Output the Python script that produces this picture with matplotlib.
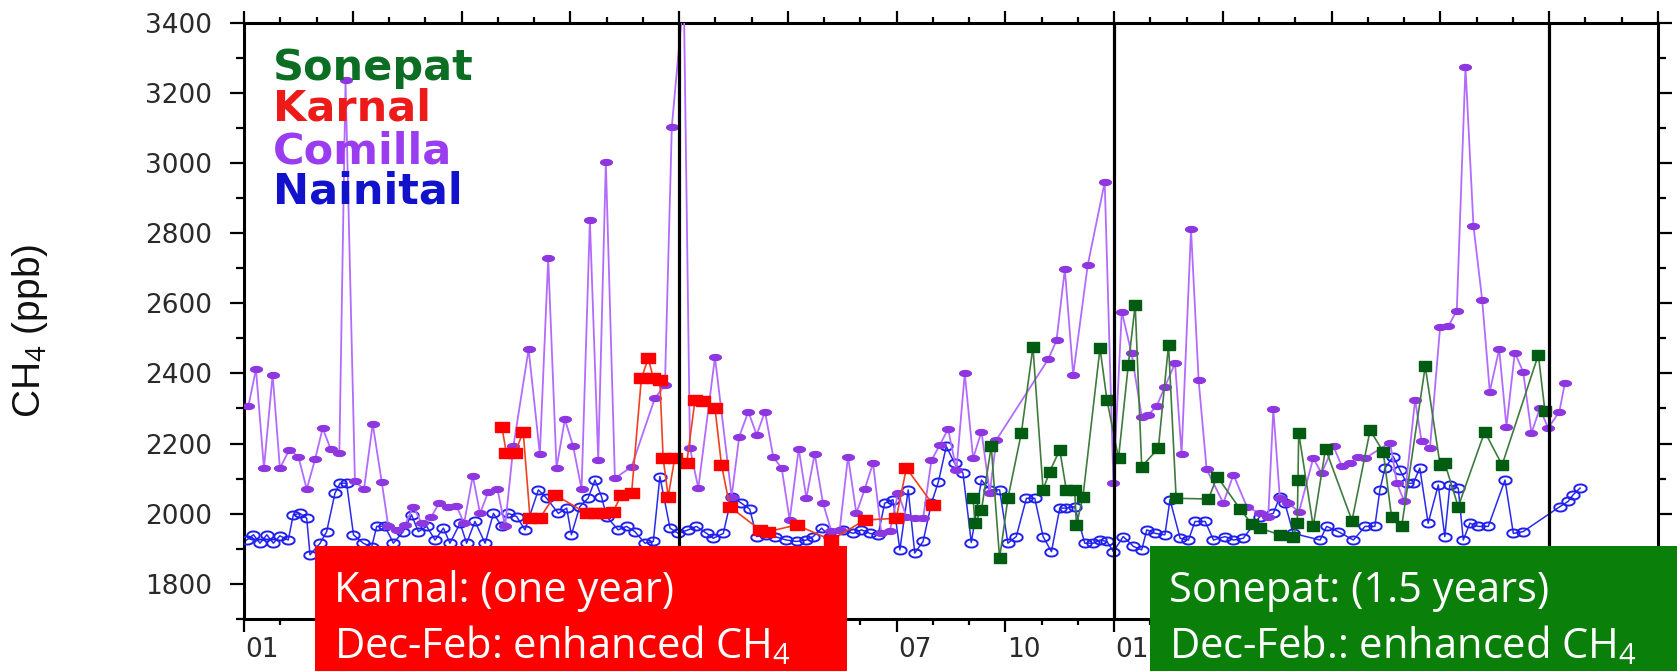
import numpy as np
import matplotlib
matplotlib.use("Agg")
import matplotlib.pyplot as plt
import matplotlib.transforms as mtransforms
from matplotlib.patches import Rectangle
from matplotlib.ticker import MultipleLocator

# x = months since January of the first year (month 0 = Jan)
comilla_month = [0.12, 0.33, 0.55, 0.79, 0.99, 1.25, 1.50, 1.73, 1.96, 2.17, 2.39, 2.63, 2.80,
                 3.06, 3.31, 3.55, 3.80, 3.98, 4.21, 4.44, 4.67, 4.90, 5.17, 5.39, 5.63, 5.86,
                 6.07, 6.31, 6.51, 6.74, 6.99, 7.20, 7.43, 7.85, 8.16, 8.39, 8.62, 8.85, 9.08,
                 9.31, 9.54, 9.77, 9.98, 10.23, 10.69, 11.33, 11.61, 11.80, 12.13, 12.30, 12.53,
                 12.99, 13.45, 13.66, 13.91, 14.14, 14.37, 14.60, 14.83, 15.05, 15.30, 15.51,
                 15.74, 15.97, 16.20, 16.43, 16.66, 16.89, 17.12, 17.35, 17.58, 17.81, 18.04,
                 18.27, 18.50, 18.73, 18.96, 19.19, 19.42, 19.65, 19.88, 20.11, 20.34, 20.57,
                 20.75, 22.18, 22.41, 22.64, 22.87, 23.27, 23.74, 23.98, 24.21, 24.48, 24.76,
                 24.94, 25.17, 25.40, 25.68, 25.86, 26.12, 26.33, 26.55, 27.01, 27.29, 27.66,
                 28.02, 28.25, 28.39, 28.57, 28.80, 29.10, 29.49, 29.72, 30.05, 30.28, 30.50,
                 30.73, 30.92, 31.61, 31.80, 32.00, 32.30, 32.48, 32.71, 32.99, 33.22, 33.45,
                 33.69, 33.91, 34.15, 34.36, 34.62, 34.82, 35.05, 35.28, 35.51, 35.74, 35.97,
                 36.28, 36.43]
comilla_ch4 = [2306, 2412, 2130, 2396, 2130, 2182, 2163, 2070, 2155, 2244, 2184, 2172, 3235,
               2092, 2070, 2256, 2090, 1964, 1954, 1968, 2020, 1973, 1992, 2032, 2020, 2022,
               1973, 2108, 2001, 2063, 2070, 1964, 2192, 2469, 2170, 2728, 2130, 2269, 2192,
               2070, 2837, 2154, 3002, 2101, 2134, 2329, 2367, 3103, 3480, 2187, 2073,
               2446, 2049, 2220, 2291, 2225, 2291, 2161, 2130, 1982, 2185, 2044,
               2171, 2030, 1950, 1954, 2163, 2001, 2070, 2144, 1944, 1950, 2059,
               1992, 1987, 1987, 2152, 2196, 2241, 2125, 2400, 2158, 2234, 2060,
               2210, 2440, 2494, 2697, 2396, 2708, 2945, 2087, 2576, 2457, 2277,
               2282, 2306, 2362, 2429, 2171, 2811, 2380, 2127, 2030, 2111, 2020,
               2001, 1992, 2298, 2044, 2030, 2006, 2158, 2116, 2192, 2135, 2144,
               2163, 2158, 2203, 2087, 2035, 2324, 2206, 2187, 2532, 2535, 2579,
               3274, 2820, 2610, 2348, 2469, 2248, 2459, 2405, 2230, 2300, 2244,
               2291, 2372]

nainital_month = [0.07, 0.26, 0.44, 0.63, 0.81, 0.99, 1.22, 1.36, 1.54, 1.73, 1.82, 2.10, 2.28,
                  2.51, 2.65, 2.83, 3.02, 3.29, 3.52, 3.66, 3.89, 4.12, 4.39, 4.62, 4.81, 5.04,
                  5.27, 5.50, 5.68, 5.96, 6.14, 6.37, 6.65, 6.88, 7.11, 7.29, 7.52, 7.75, 8.12,
                  8.35, 8.67, 8.90, 9.03, 9.26, 9.49, 9.68, 9.86, 10.00, 10.32, 10.55, 10.78,
                  11.06, 11.29, 11.47, 11.75, 11.98, 12.25, 12.48, 12.76, 12.94, 13.22, 13.45,
                  13.72, 13.95, 14.14, 14.41, 14.64, 14.96, 15.24, 15.51, 15.70, 15.93, 16.16,
                  16.52, 16.80, 17.03, 17.26, 17.49, 17.67, 17.90, 18.09, 18.32, 18.50, 18.73,
                  18.96, 19.15, 19.37, 19.60, 19.83, 20.06, 20.34, 20.57, 20.84, 21.07, 21.30,
                  21.58, 21.81, 22.04, 22.27, 22.50, 22.68, 22.91, 23.19, 23.43, 23.61, 23.80,
                  23.98, 24.25, 24.53, 24.76, 24.90, 25.13, 25.40, 25.54, 25.82, 26.05, 26.23,
                  26.51, 26.74, 27.06, 27.29, 27.56, 28.02, 28.39, 28.57, 28.71, 28.94, 29.68,
                  29.86, 30.18, 30.60, 30.92, 31.19, 31.33, 31.47, 31.70, 31.88, 32.07, 32.25,
                  32.43, 32.66, 32.94, 33.12, 33.26, 33.49, 33.63, 33.81, 34.04, 34.32, 34.78,
                  35.01, 35.28, 36.29, 36.52, 36.66, 36.85]
nainital_ch4 = [1925, 1940, 1916, 1940, 1916, 1937, 1925, 1997, 2001, 1987, 1883, 1916, 1949,
                2059, 2087, 2087, 1940, 1916, 1905, 1964, 1964, 1916, 1949, 1997, 1949, 1964,
                1925, 1959, 1916, 1973, 1916, 1978, 1916, 2001, 1964, 2001, 1992, 1954, 2068,
                2044, 2001, 2016, 1940, 2020, 2044, 2096, 2049, 1992, 1954, 1964, 1949,
                1916, 1921, 2106, 1959, 1944, 1954, 1964, 1944, 1930, 1944, 2049,
                2030, 2013, 1935, 1940, 1935, 1925, 1921, 1925, 1935, 1959, 1935,
                1954, 1944, 1954, 1944, 1940, 2030, 2040, 1897, 2068, 1888, 1921,
                2030, 2090, 2192, 2144, 2116, 1918, 2096, 2068, 2068, 1916, 1935,
                2044, 2044, 1935, 1892, 2016, 2016, 2020, 1916, 1916, 1925, 1921,
                1892, 1935, 1907, 1897, 1954, 1944, 1940, 2040, 1930, 1925, 1978,
                1978, 1925, 1935, 1925, 1930, 1992, 2001, 2049, 2030, 1944, 1925,
                1964, 1949, 1925, 1964, 1964, 2068, 2130, 2163, 2125, 2087, 2087,
                2130, 1973, 2082, 1935, 2082, 2073, 1925, 1973, 1964, 1964, 2096,
                1944, 1949, 2020, 2035, 2054, 2073]

karnal_month = [7.11, 7.24, 7.47, 7.70, 7.89, 8.16, 8.58, 9.45, 9.68, 9.91, 10.18, 10.41, 10.69,
                10.96, 11.15, 11.29, 11.47, 11.56, 11.70, 11.88, 12.21, 12.44, 12.67, 12.99,
                13.17, 13.40, 14.23, 14.46, 15.24, 16.20, 17.12, 17.99, 18.27, 19.01]
karnal_ch4 = [2248, 2172, 2172, 2234, 1987, 1987, 2054, 2001, 2001, 2001, 2006, 2054, 2058,
              2386, 2443, 2386, 2381, 2158, 2049, 2158, 2144, 2324, 2320, 2301,
              2139, 2020, 1954, 1949, 1968, 1925, 1982, 1987, 2130, 2025]

sonepat_month = [20.11, 20.16, 20.34, 20.61, 20.84, 21.07, 21.44, 21.76, 22.04, 22.22, 22.50,
                 22.68, 22.91, 22.96, 23.14, 23.61, 23.80, 24.12, 24.39, 24.58, 24.76, 25.22,
                 25.50, 25.71, 26.60, 26.84, 27.47, 27.80, 28.02, 28.57, 28.94, 29.05, 29.07,
                 29.09, 29.49, 29.83, 30.56, 31.06, 31.42, 31.65, 31.93, 32.58, 32.99, 33.12,
                 33.49, 34.22, 34.70, 35.70, 35.88]
sonepat_ch4 = [2044, 1973, 2011, 2192, 1873, 2044, 2230, 2475, 2068, 2120, 2182,
               2068, 2068, 1968, 2049, 2472, 2325, 2158, 2424, 2595, 2134, 2187,
               2481, 2044, 2042, 2106, 2014, 1970, 1959, 1940, 1935, 1973, 2095,
               2231, 1964, 2185, 1980, 2238, 2177, 1992, 1964, 2420, 2139, 2144,
               2020, 2234, 2139, 2453, 2294]

year_starts = [12, 24, 36]
month_names = ['01', '04', '07', '10']
station_names = ['Sonepat', 'Karnal', 'Comilla', 'Nainital']
station_colors = ['#0b6e22', '#ee1a1a', '#9a3cf0', '#1212cc']

plt.rcParams['mathtext.fontset'] = 'custom'
plt.rcParams['mathtext.rm'] = 'Open Sans'

t = np.linspace(0, 2 * np.pi, 25)
flat_ellipse = np.column_stack([np.cos(t), 0.5 * np.sin(t)])
ring = np.column_stack([np.cos(t), 0.65 * np.sin(t)])
wide_square = [(-1, -0.75), (1, -0.75), (1, 0.75), (-1, 0.75), (-1, -0.75)]

W, H = 1677, 671
fig = plt.figure(figsize=(W / 100, H / 100), dpi=100)
ax = fig.add_axes([244 / W, 52 / H, 1414 / W, 596.5 / H])

ax.plot(nainital_month, nainital_ch4, color='#2a2aee', lw=1.1, marker=ring, ms=9,
        mfc='none', mec='#2020ee', mew=1.4, zorder=3)
ax.plot(comilla_month, comilla_ch4, color='#b36bff', lw=1.3, marker=flat_ellipse, ms=8.5,
        mfc='#8e36e0', mec='#8e36e0', zorder=4)
ax.plot(karnal_month, karnal_ch4, color='#f04020', lw=1.2, marker=wide_square, ms=9.5,
        mfc='#ff0000', mec='#ff0000', zorder=5)
ax.plot(sonepat_month, sonepat_ch4, color='#3f7a3f', lw=1.2, marker=wide_square, ms=9,
        mfc='#005c10', mec='#005c10', zorder=6)

for yr in year_starts:
    ax.axvline(yr, color='black', lw=2.3, zorder=7)

ax.set_xlim(0, 39)
ax.set_ylim(1700, 3400)
ax.xaxis.set_major_locator(MultipleLocator(3))
ax.xaxis.set_minor_locator(MultipleLocator(1))
ax.yaxis.set_major_locator(MultipleLocator(200))
ax.yaxis.set_minor_locator(MultipleLocator(100))
ax.tick_params(which='both', direction='out', top=True, right=True, width=1.6, color='black')
ax.tick_params(axis='x', which='major', length=9, labelbottom=False)
ax.tick_params(axis='x', which='minor', length=4.5)
ax.tick_params(axis='y', which='major', length=10, pad=13, labelsize=19, labelcolor='#2a2a2a')
ax.tick_params(axis='y', which='minor', length=6)
for lab in ax.get_yticklabels():
    lab.set_family('DejaVu Sans')
for sp in ax.spines.values():
    sp.set_linewidth(2.2)

# annotation boxes (figure pixels: left, width)
boxes = [(315, 532, '#ff0000', 'Karnal: (one year)', 'Dec-Feb: enhanced CH$_4$'),
         (1150, 527, '#0a7f0a', 'Sonepat: (1.5 years)', 'Dec-Feb.: enhanced CH$_4$')]

# month labels centred in the month; those fully under a box are not drawn
trans = mtransforms.blended_transform_factory(ax.transData, ax.transAxes)
for i, m in enumerate(range(0, 37, 3)):
    px = ax.transData.transform((m + 0.5, 2000))[0]
    if any(bx + 10 < px < bx + bw for bx, bw, *_ in boxes):
        continue
    ax.text(m + 0.5, -0.052, month_names[i % 4], transform=trans, ha='center', va='center',
            fontsize=19, family='DejaVu Sans', color='#2a2a2a', clip_on=False)

ax.set_ylabel('CH$_4$ (ppb)', fontsize=28, family='Liberation Sans', color='#111111')
ax.yaxis.set_label_coords(-0.137, 0.483)

legend_y = [0.904, 0.836, 0.764, 0.697]
for name, col, yy in zip(station_names, station_colors, legend_y):
    ax.text(0.0205, yy, name, transform=ax.transAxes, fontsize=31, fontweight='bold',
            family='DejaVu Sans', color=col, va='baseline', zorder=8)

box_font = dict(fontsize=30, family='Open Sans', color='white', va='baseline', zorder=21)
for bx, bw, col, line1, line2 in boxes:
    fig.patches.append(Rectangle((bx / W, 0), bw / W, 125 / H, transform=fig.transFigure,
                                 facecolor=col, edgecolor='none', zorder=20))
    fig.text((bx + 19) / W, 1 - 602 / H, line1, **box_font)
    fig.text((bx + 19) / W, 1 - 658 / H, line2, **box_font)

fig.savefig('out.png', dpi=100)
